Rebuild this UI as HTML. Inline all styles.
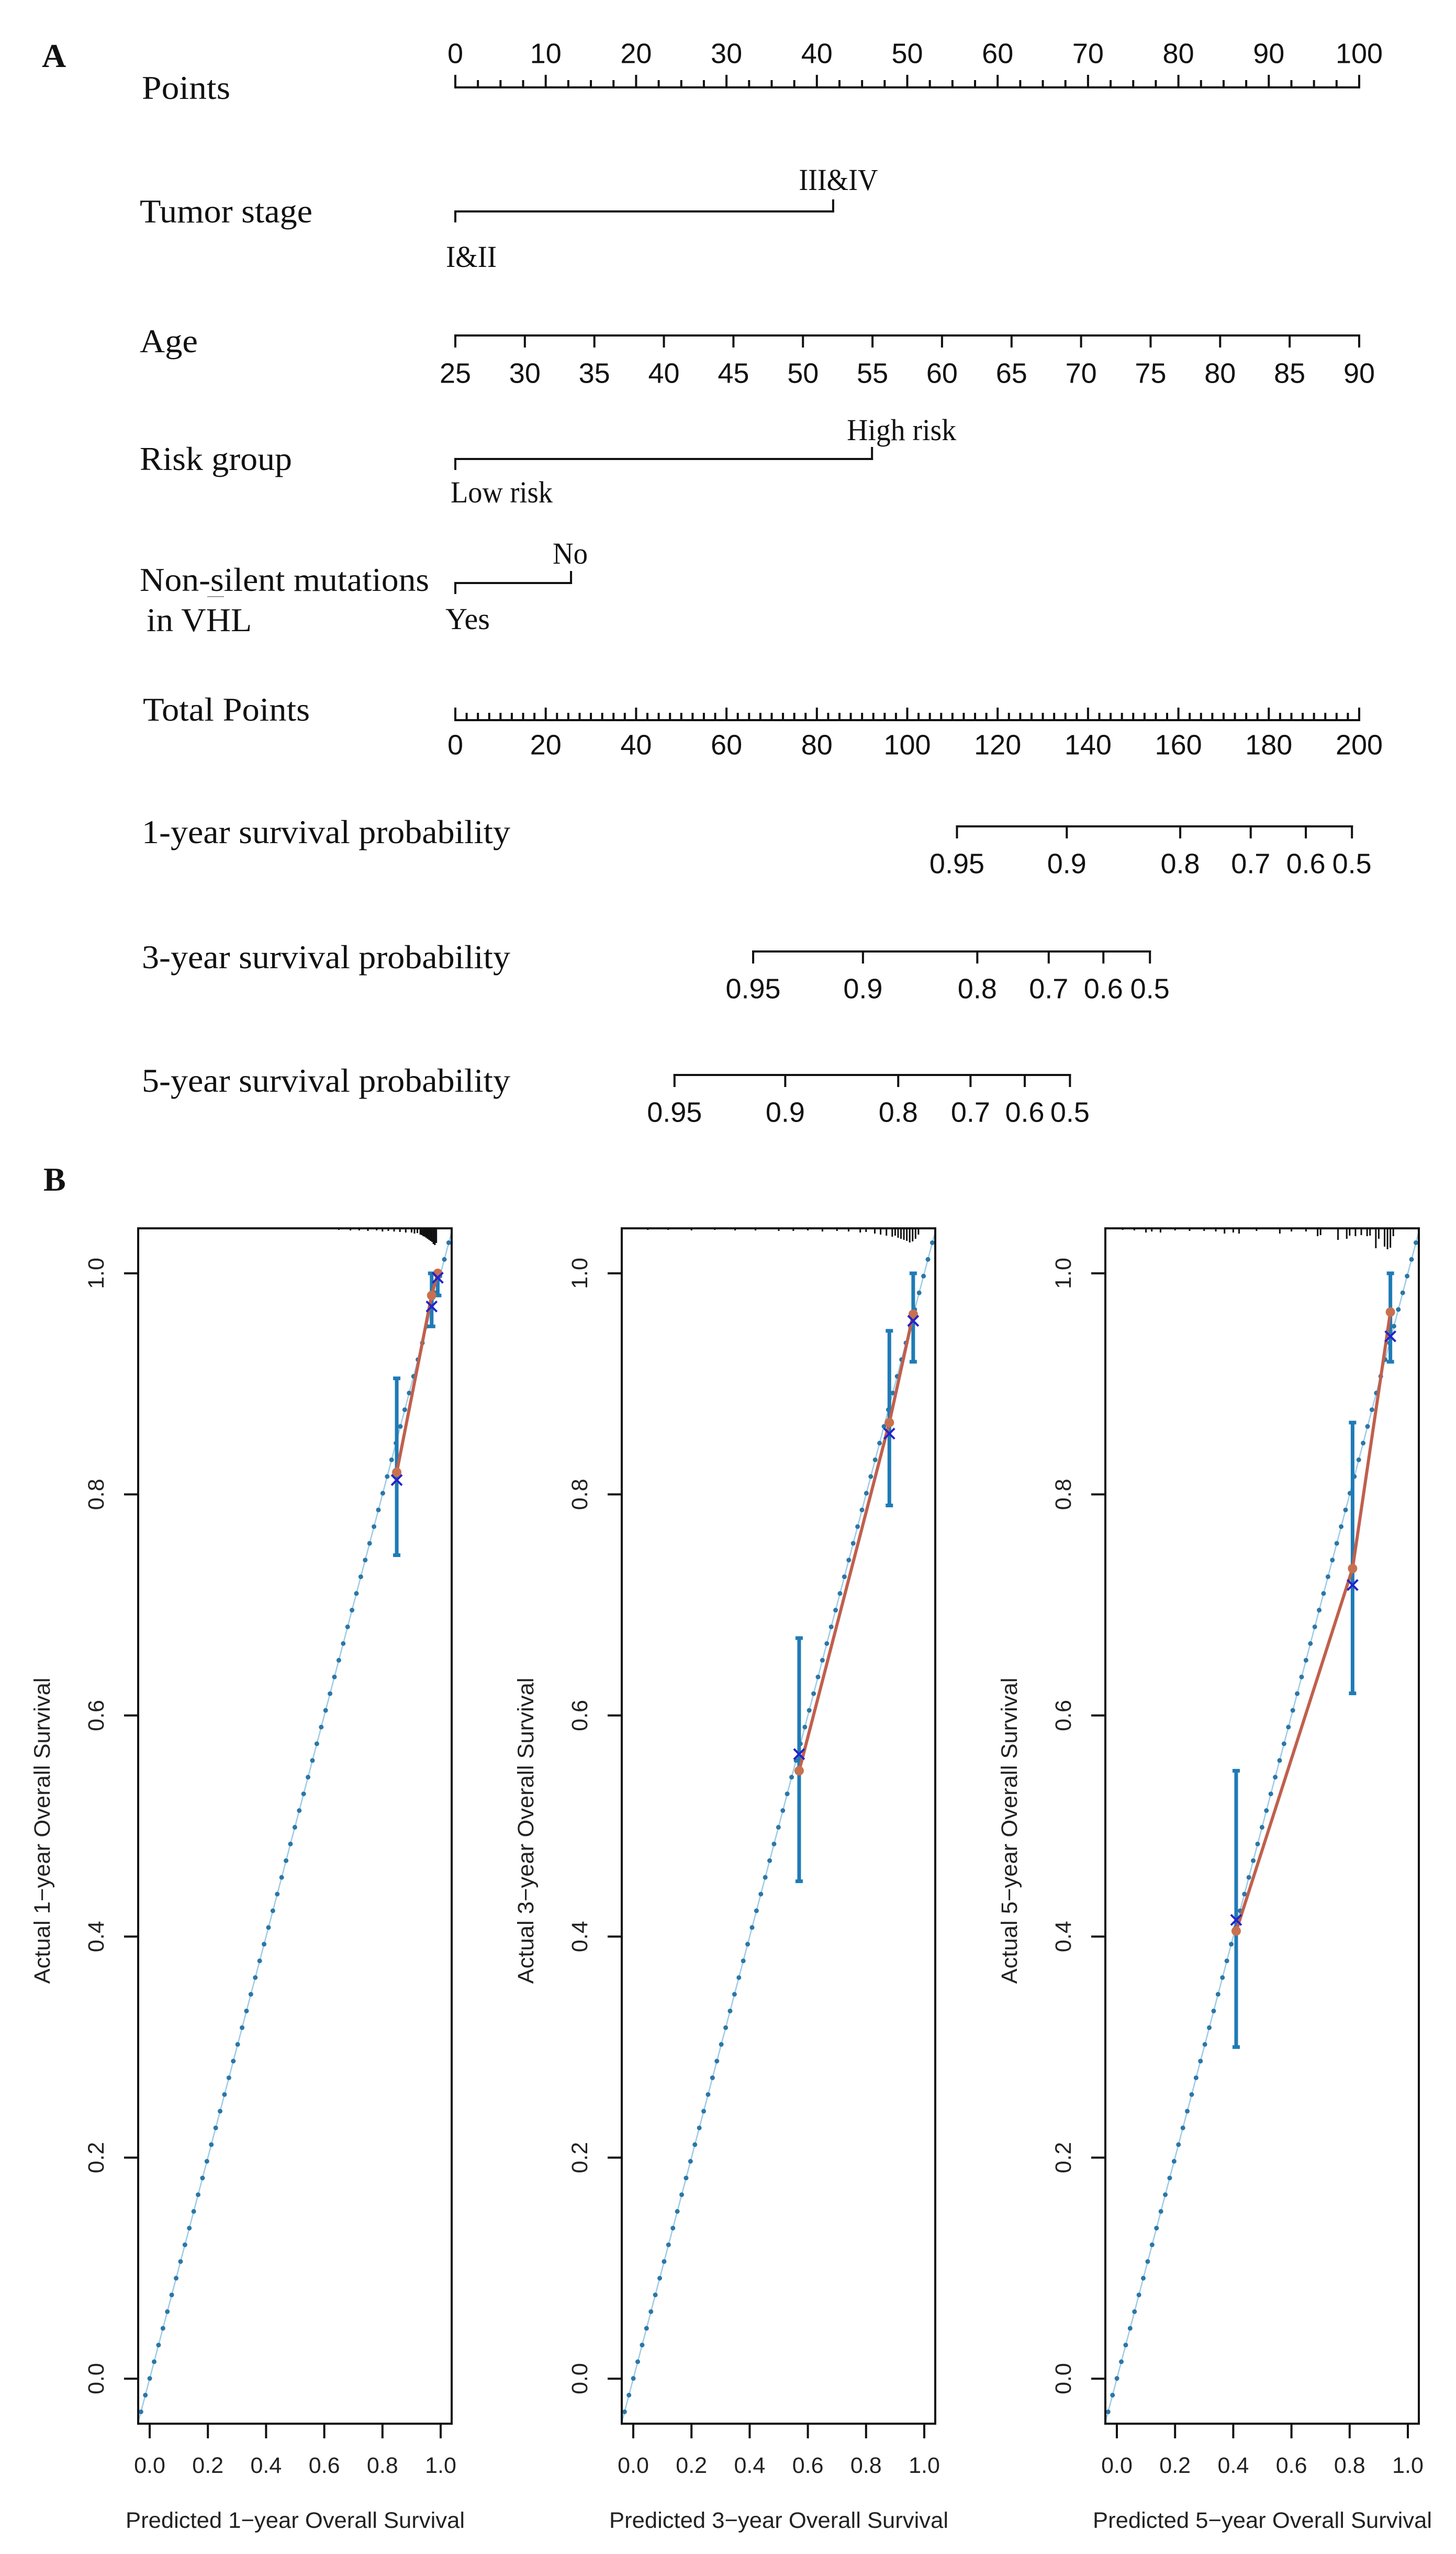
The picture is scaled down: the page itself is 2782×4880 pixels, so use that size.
<!DOCTYPE html>
<html><head><meta charset="utf-8"><style>html,body{margin:0;padding:0;background:#fff}svg{display:block}</style></head>
<body>
<svg id="fig" xmlns="http://www.w3.org/2000/svg" width="2782" height="4880" viewBox="0 0 2782 4880">
<rect width="2782" height="4880" fill="#fff"/>
<g id="nomo"></g>
<g id="calib"></g>
</svg>
<script>
// ---------- Nomogram data ----------
const pointsMajor = [0,10,20,30,40,50,60,70,80,90,100];
const tumorCats = ["I&II","III&IV"];
const tumorPts = [0,41.8];
const ageTicks = [25,30,35,40,45,50,55,60,65,70,75,80,85,90];
const riskCats = ["Low risk","High risk"];
const riskPts = [0,46.1];
const vhlCats = ["Yes","No"];
const vhlPts = [0,12.8];
const totalMajor = [0,20,40,60,80,100,120,140,160,180,200];
const survLabels = ["0.95","0.9","0.8","0.7","0.6","0.5"];
const surv1Total = [111.0,135.3,160.4,176.0,188.2,198.4];
const surv3Total = [65.9,90.2,115.5,131.3,143.4,153.7];
const surv5Total = [48.5,73.0,98.0,114.0,126.0,136.0];

// ---------- Calibration data ----------
const calibYears = ["1","3","5"];
const pred1 = [0.849,0.969,0.99];
const obs1 = [0.82,0.98,1.0];
const km1 = [0.813,0.970,0.996];
const lo1 = [0.745,0.952,0.98];
const hi1 = [0.905,1.0,1.0];
const pred2 = [0.57,0.88,0.962];
const obs2 = [0.55,0.865,0.963];
const km2 = [0.565,0.855,0.957];
const lo2 = [0.45,0.79,0.92];
const hi2 = [0.67,0.948,1.0];
const pred3 = [0.41,0.81,0.94];
const obs3 = [0.405,0.733,0.965];
const km3 = [0.415,0.718,0.943];
const lo3 = [0.30,0.62,0.92];
const hi3 = [0.55,0.865,1.0];
const axisTicks = [0,0.2,0.4,0.6,0.8,1.0];
const axisTickLabels = ["0.0","0.2","0.4","0.6","0.8","1.0"];
const rugPred1 = [0.55,0.6,0.65,0.69,0.72,0.75,0.78,0.8,0.82,0.84,0.86,0.88,0.9,0.91,0.92,0.93,0.935,0.94,0.945,0.95,0.955,0.96,0.965,0.97,0.975,0.98,0.985];
const rugLen1 = [2,2,3,4,4,5,4,6,5,6,7,8,8,10,9,12,13,15,16,18,20,22,24,26,30,32,28];
const rugPred2 = [0.05,0.12,0.2,0.28,0.35,0.42,0.5,0.55,0.6,0.65,0.7,0.74,0.78,0.8,0.83,0.85,0.87,0.89,0.9,0.91,0.92,0.93,0.94,0.95,0.96,0.97,0.98];
const rugLen2 = [3,3,4,3,4,4,5,5,4,6,5,6,8,7,10,12,14,16,14,18,20,22,24,27,25,20,12];
const rugPred3 = [0.02,0.06,0.1,0.12,0.15,0.2,0.25,0.3,0.34,0.37,0.4,0.42,0.48,0.56,0.6,0.65,0.69,0.7,0.76,0.79,0.8,0.82,0.84,0.86,0.87,0.89,0.9,0.92,0.93,0.94,0.95];
const rugLen3 = [3,4,8,6,8,4,5,5,6,10,8,10,5,10,6,6,15,13,22,20,14,15,13,15,14,38,20,35,40,37,15];

const NS = "http://www.w3.org/2000/svg";
function mk(parent, tag, attrs, text) {
  const e = document.createElementNS(NS, tag);
  for (const k in attrs) e.setAttribute(k, attrs[k]);
  if (text !== undefined) e.textContent = text;
  parent.appendChild(e);
  return e;
}
const SERIF = '"Liberation Serif", serif';
const SANS = '"Liberation Sans", sans-serif';

// ---------- Nomogram ----------
const nomo = document.getElementById('nomo');
const X0 = 870, PX = 17.27;
function ptsX(p){ return X0 + p*PX; }
function totX(t){ return X0 + t*PX/2; }
function line(g,x1,y1,x2,y2,w){ return mk(g,'line',{x1:x1,y1:y1,x2:x2,y2:y2,stroke:'#111','stroke-width':w||4,'stroke-linecap':'square'}); }
function stext(g,str,x,yc,size,len,anchor){
  const t = mk(g,'text',{x:x,y:yc+size*0.33,'font-family':SERIF,'font-size':size,fill:'#111','text-anchor':anchor||'start'},str);
  if(len){ t.setAttribute('textLength',len); t.setAttribute('lengthAdjust','spacingAndGlyphs'); }
  return t;
}
function ntext(g,str,x,yc,size){
  return mk(g,'text',{x:x,y:yc+size*0.36,'font-family':SANS,'font-size':size,fill:'#111','text-anchor':'middle'},str);
}
let t;
t = mk(nomo,'text',{x:80,y:128,'font-family':SERIF,'font-size':64,'font-weight':'bold',fill:'#111'},'A');



// Points row
let g = mk(nomo,'g',{});


stext(g,'Points',271,168,64,169);
line(g,ptsX(0),167,ptsX(100),167);
for(let p=0;p<=100.001;p+=2.5){ const maj = Math.abs(p%10)<0.01; line(g,ptsX(p),167,ptsX(p),maj?145:155,4); }
pointsMajor.forEach(p=>ntext(g,String(p),ptsX(p),101,54));

// categorical rows
function catRow(name,label,labelLen,y,cats,pts,labelDefs){
  const gg = mk(nomo,'g',{});
  
  
  stext(gg,label,267,y,64,labelLen);
  line(gg,ptsX(pts[0]),y,ptsX(pts[1]),y);
  line(gg,ptsX(pts[0]),y,ptsX(pts[0]),y+19);
  line(gg,ptsX(pts[1]),y,ptsX(pts[1]),y-21);
  labelDefs.forEach((d,i)=>stext(gg,cats[i],ptsX(pts[i])+d.dx,y+d.dy,58,d.len,d.anchor));
  return gg;
}
catRow('tumor-stage-row','Tumor stage',330,404,tumorCats,tumorPts,[{dx:-18,dy:87,len:97},{dx:10,dy:-60,len:151,anchor:'middle'}]);
catRow('risk-group-row','Risk group',291,877,riskCats,riskPts,[{dx:-9,dy:64,len:195},{dx:-48,dy:-55,len:209}]);
const vg = catRow('vhl-mutation-row','Non-silent mutations',553,1108,vhlCats,vhlPts,[{dx:-19,dy:75,len:85},{dx:-35,dy:-50,len:67}]);
vg.querySelectorAll('line').forEach(l=>{ l.setAttribute('y1',+l.getAttribute('y1')+6); l.setAttribute('y2',+l.getAttribute('y2')+6); });
stext(vg,'in VHL',280,1185,64,201);
mk(vg,'line',{x1:396,y1:1140,x2:428,y2:1140,stroke:'#999','stroke-width':2});

// Age
g = mk(nomo,'g',{});


stext(g,'Age',267,652,64,111);
function ageX(a){ return ptsX((a-25)/65*100); }
line(g,ageX(25),641,ageX(90),641);
ageTicks.forEach(a=>{ line(g,ageX(a),641,ageX(a),662); ntext(g,String(a),ageX(a),712,54); });

// Total points
g = mk(nomo,'g',{});


stext(g,'Total Points',273,1356,64,319);
line(g,totX(0),1376,totX(200),1376);
for(let p=0;p<=200.001;p+=2.5){ const maj = Math.abs(p%20)<0.01; line(g,totX(p),1376,totX(p),maj?1354:1364,4); }
totalMajor.forEach(p=>ntext(g,String(p),totX(p),1422,54));

// survival rows
function survRow(name,label,y,totals){
  const gg = mk(nomo,'g',{});
  
  
  stext(gg,label,271,y+11,64,704);
  line(gg,totX(totals[0]),y,totX(totals[totals.length-1]),y);
  totals.forEach((v,i)=>{ line(gg,totX(v),y,totX(v),y+21); ntext(gg,survLabels[i],totX(v),y+70,54); });
}
survRow('one-year-survival-axis','1-year survival probability',1579,surv1Total);
survRow('three-year-survival-axis','3-year survival probability',1818,surv3Total);
survRow('five-year-survival-axis','5-year survival probability',2054,surv5Total);

// ---------- Calibration ----------
const calib = document.getElementById('calib');
t = mk(calib,'text',{x:83,y:2275,'font-family':SERIF,'font-size':64,'font-weight':'bold',fill:'#111'},'B');



const FT = 2347, FB = 4631, FW = 599;
const datasets = [
  {pred:pred1,obs:obs1,km:km1,lo:lo1,hi:hi1,rp:rugPred1,rl:rugLen1},
  {pred:pred2,obs:obs2,km:km2,lo:lo2,hi:hi2,rp:rugPred2,rl:rugLen2},
  {pred:pred3,obs:obs3,km:km3,lo:lo3,hi:hi3,rp:rugPred3,rl:rugLen3}
];
datasets.forEach((d,i)=>{
  const L = 264 + i*924;
  const xs = v => L + 22 + v*556;
  const ys = v => 4545 - v*2112;
  const pg = mk(calib,'g',{});
  
  
  const cid = 'clip'+i;
  const cp = mk(pg,'clipPath',{id:cid});
  mk(cp,'rect',{x:L,y:FT,width:FW,height:FB-FT});
  // diagonal
  const dg = mk(pg,'g',{'clip-path':'url(#'+cid+')'});
  
  
  mk(dg,'line',{x1:xs(-0.05),y1:ys(-0.05),x2:xs(1.1),y2:ys(1.1),stroke:'#9ccbe6','stroke-width':2.5});
  mk(dg,'line',{x1:xs(-0.03),y1:ys(-0.03),x2:xs(1.1),y2:ys(1.1),stroke:'#2a77a8','stroke-width':9,'stroke-linecap':'round','stroke-dasharray':'0 33'});
  // rug
  const rg = mk(pg,'g',{});
  
  
  d.rp.forEach((v,k)=>{ mk(rg,'line',{x1:xs(v),y1:FT,x2:xs(v),y2:FT+d.rl[k],stroke:'#111','stroke-width':3}); });
  // error bars
  d.pred.forEach((v,k)=>{
    const eb = mk(pg,'g',{});
    
    
    mk(eb,'line',{x1:xs(v),y1:ys(d.lo[k]),x2:xs(v),y2:ys(d.hi[k]),stroke:'#1f7bb6','stroke-width':7});
    mk(eb,'line',{x1:xs(v)-7,y1:ys(d.lo[k]),x2:xs(v)+7,y2:ys(d.lo[k]),stroke:'#1f7bb6','stroke-width':7});
    mk(eb,'line',{x1:xs(v)-7,y1:ys(d.hi[k]),x2:xs(v)+7,y2:ys(d.hi[k]),stroke:'#1f7bb6','stroke-width':7});
  });
  // calibration line
  const pl = mk(pg,'polyline',{points:d.pred.map((v,k)=>xs(v)+','+ys(d.obs[k])).join(' '),fill:'none',stroke:'#c0604d','stroke-width':6});
  
  
  d.pred.forEach((v,k)=>{
    const c = mk(pg,'circle',{cx:xs(v),cy:ys(d.obs[k]),r:9,fill:'#c8714f'});
    
    
  });
  d.pred.forEach((v,k)=>{
    const xg = mk(pg,'g',{stroke:'#2424c8','stroke-width':4});
    
    
    const cx = xs(v), cy = ys(d.km[k]);
    mk(xg,'line',{x1:cx-10,y1:cy-10,x2:cx+10,y2:cy+10});
    mk(xg,'line',{x1:cx-10,y1:cy+10,x2:cx+10,y2:cy-10});
  });
  // frame
  const fr = mk(pg,'rect',{x:L,y:FT,width:FW,height:FB-FT,fill:'none',stroke:'#111','stroke-width':4});
  
  
  // axes
  const ya = mk(pg,'g',{});
  
  
  axisTicks.forEach((v,k)=>{
    mk(ya,'line',{x1:L,y1:ys(v),x2:L-27,y2:ys(v),stroke:'#111','stroke-width':4});
    const tx = L-81, ty = ys(v);
    mk(ya,'text',{x:tx,y:ty+15,'font-family':SANS,'font-size':43,fill:'#222','text-anchor':'middle',transform:'rotate(-90 '+tx+' '+ty+')'},axisTickLabels[k]);
  });
  const xa = mk(pg,'g',{});
  
  
  axisTicks.forEach((v,k)=>{
    mk(xa,'line',{x1:xs(v),y1:FB,x2:xs(v),y2:FB+28,stroke:'#111','stroke-width':4});
    mk(xa,'text',{x:xs(v),y:4725,'font-family':SANS,'font-size':43,fill:'#222','text-anchor':'middle'},axisTickLabels[k]);
  });
  const xt = mk(pg,'text',{x:L+300,y:4830,'font-family':SANS,'font-size':43,fill:'#222','text-anchor':'middle',textLength:648,lengthAdjust:'spacingAndGlyphs'},'Predicted '+calibYears[i]+'\u2212year Overall Survival');
  
  
  const yx = 80 + i*924, yy = 3498;
  const yt = mk(pg,'text',{x:yx,y:yy+15,'font-family':SANS,'font-size':43,fill:'#222','text-anchor':'middle',textLength:585,lengthAdjust:'spacingAndGlyphs',transform:'rotate(-90 '+yx+' '+yy+')'},'Actual '+calibYears[i]+'\u2212year Overall Survival');
  
  
});
</script>
</body></html>
